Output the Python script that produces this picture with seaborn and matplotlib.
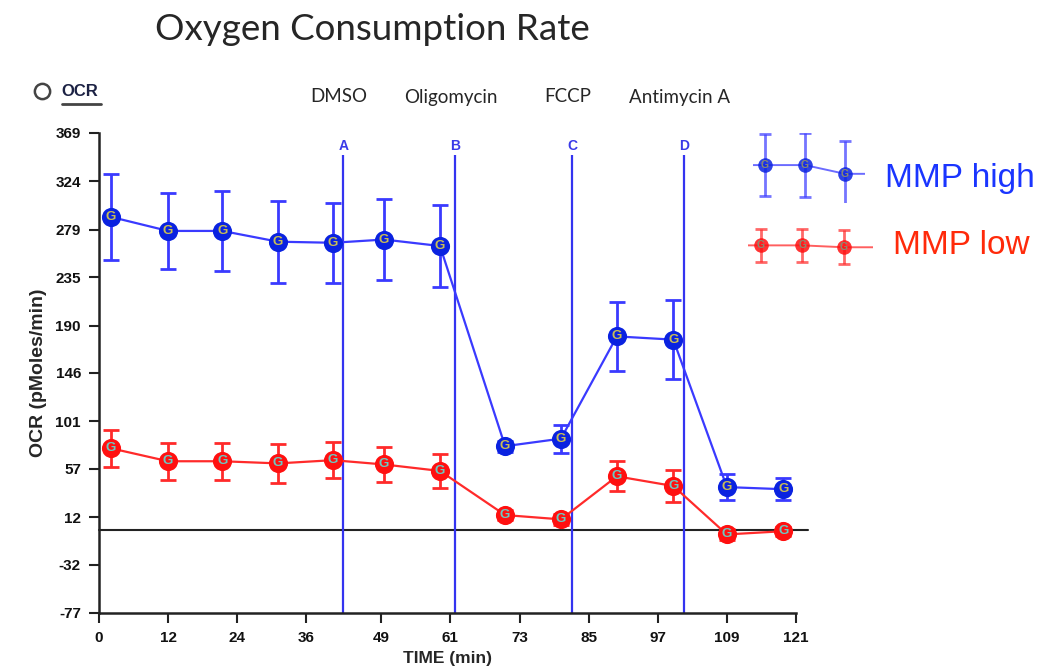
import matplotlib
matplotlib.use("Agg")
import matplotlib.pyplot as plt
from matplotlib.lines import Line2D
from matplotlib.transforms import blended_transform_factory
import numpy as np
import pandas as pd
import seaborn as sns

# Seahorse OCR trace: two cell populations sorted by mitochondrial membrane potential
time_min = [2.1, 12.0, 21.4, 31.1, 40.6, 49.5, 59.2, 70.5, 80.2, 89.9, 99.7, 109.0, 118.8]
ocr_high = [291, 278, 278, 268, 267, 270, 264, 78, 85, 180, 177, 40, 38]
err_high = [40, 35, 37, 38, 37, 38, 38, 5, 13, 32, 37, 12, 10]
ocr_low = [76, 64, 64, 62, 65, 61, 55, 14, 10, 50, 41, -4, -1]
err_low = [17, 17, 17, 18, 17, 16, 16, 5, 5, 14, 15, 5, 4]

injection_time = [42.4, 61.8, 82.1, 101.6]
injection_port = ["A", "B", "C", "D"]
injection_compound = ["DMSO", "Oligomycin", "FCCP", "Antimycin A"]

y_ticks = [-77, -32, 12, 57, 101, 146, 190, 235, 279, 324, 369]
x_ticks = [0, 12, 24, 36, 49, 61, 73, 85, 97, 109, 121]

groups = ["MMP high", "MMP low"]
line_col = {"MMP high": "#3a3aff", "MMP low": "#ff2a2a"}
dot_col = {"MMP high": "#0a22e0", "MMP low": "#ff1010"}
glyph_col = {"MMP high": "#c8bd55", "MMP low": "#6cc9c2"}
label_col = {"MMP high": "#1a35ff", "MMP low": "#ff2a0a"}

df = pd.concat([
    pd.DataFrame({"time": time_min, "ocr": ocr_high, "err": err_high, "group": "MMP high"}),
    pd.DataFrame({"time": time_min, "ocr": ocr_low, "err": err_low, "group": "MMP low"}),
], ignore_index=True)

sns.set_theme(style="ticks")
plt.rcParams["font.family"] = ["Liberation Sans", "DejaVu Sans"]

fig = plt.figure(figsize=(10.42, 6.70), dpi=100)
ax = fig.add_axes([99 / 1042, 1 - 613 / 670, 697 / 1042, 480 / 670])


def draw_series(axis, x, y, e, grp, msize, gsize, lw=1.6):
    axis.errorbar(x, y, yerr=e, fmt="none", ecolor=line_col[grp], elinewidth=2,
                  capsize=6, capthick=2, zorder=3)
    sns.lineplot(x=x, y=y, ax=axis, color=line_col[grp], linewidth=lw,
                 estimator=None, sort=False, zorder=4, legend=False)
    sns.scatterplot(x=x, y=y, ax=axis, color=dot_col[grp], s=msize, linewidth=0,
                    zorder=5, legend=False)
    for xi, yi in zip(x, y):
        axis.text(xi, yi, "G", color=glyph_col[grp], fontsize=gsize, fontweight="bold",
                  ha="center", va="center", zorder=6)


for grp in groups:
    sub = df[df["group"] == grp]
    draw_series(ax, list(sub["time"]), list(sub["ocr"]), list(sub["err"]), grp, 190, 9.5)

# zero reference line
ax.plot([0, 123], [0, 0], color="#222222", linewidth=1.5, zorder=2, clip_on=False)

# injection ports
label_tf = blended_transform_factory(ax.transData, fig.transFigure)
for t, port, comp in zip(injection_time, injection_port, injection_compound):
    ax.vlines(t, -77, 349, color="#3434f0", linewidth=1.6, zorder=2)
    ax.text(t, 357, port, color="#3a3ae8", fontsize=10, fontweight="bold",
            ha="center", va="center")
    ax.text(t - 0.8, 1 - 97 / 670, comp, transform=label_tf, fontsize=13.5,
            ha="center", va="center", family=["Lato", "DejaVu Sans"], clip_on=False)

ax.set_xlim(0, 121)
ax.set_ylim(-77, 369)
ax.set_xticks(x_ticks)
ax.set_xticklabels([str(v) for v in x_ticks])
ax.set_yticks(y_ticks)
ax.set_yticklabels([str(v) for v in y_ticks])
ax.tick_params(axis="both", direction="out", length=7, width=1.5, color="#222222",
               labelsize=11, pad=6)
for lab in ax.get_xticklabels() + ax.get_yticklabels():
    lab.set_fontweight("bold")
    lab.set_color("#111111")
for side in ["top", "right"]:
    ax.spines[side].set_visible(False)
for side in ["left", "bottom"]:
    ax.spines[side].set_color("#222222")
    ax.spines[side].set_linewidth(1.8)
ax.set_xlabel("TIME (min)", fontsize=12.5, fontweight="bold", labelpad=4)
ax.set_ylabel("OCR (pMoles/min)", fontsize=14, fontweight="bold", labelpad=6)
ax.grid(False)

# legend glyphs: first points after the initial reading of each trace
leg_boxes = {"MMP high": ([753, 133, 112, 70], 40), "MMP low": ([748, 226, 125, 40], 21)}
leg_xlim = {"MMP high": (-0.3, 2.5), "MMP low": (-0.3, 2.7)}
series = {"MMP high": (ocr_high, err_high), "MMP low": (ocr_low, err_low)}
for grp in groups:
    (px, py, pw, ph), half = leg_boxes[grp]
    lax = fig.add_axes([px / 1042, 1 - (py + ph) / 670, pw / 1042, ph / 670])
    vals, errs = series[grp]
    yv = vals[1:4]
    ev = errs[1:4]
    xv = [0, 1, 2]
    lo, hi = leg_xlim[grp]
    lax.plot([lo] + xv + [hi], [yv[0]] + yv + [yv[-1]], color=line_col[grp], linewidth=1.4,
             alpha=0.75, zorder=2)
    lax.errorbar(xv, yv, yerr=ev, fmt="none", ecolor=line_col[grp], elinewidth=2,
                 capsize=4, capthick=2, alpha=0.7, zorder=3)
    lax.scatter(xv, yv, s=110, color=dot_col[grp], linewidth=0, alpha=0.85, zorder=4)
    for xi, yi in zip(xv, yv):
        lax.text(xi, yi, "G", color="#8a8a70", fontsize=7.5, fontweight="bold",
                 ha="center", va="center", zorder=5)
    centre = float(np.mean(yv))
    lax.set_xlim(lo, hi)
    lax.set_ylim(centre - half, centre + half)
    lax.axis("off")

fig.text(885 / 1042, 1 - 178 / 670, "MMP high", color=label_col["MMP high"], fontsize=24,
         ha="left", va="center")
fig.text(893 / 1042, 1 - 245 / 670, "MMP low", color=label_col["MMP low"], fontsize=24,
         ha="left", va="center")

# title and panel tag
fig.text(155 / 1042, 1 - 29 / 670, "Oxygen Consumption Rate", fontsize=26.5, ha="left",
         va="center", family=["Lato", "DejaVu Sans"])
fig.add_artist(Line2D([42 / 1042], [1 - 91 / 670], marker="o", markersize=11, mfc="none",
                      mec="#444444", mew=1.8, linestyle="none", transform=fig.transFigure))
fig.text(61 / 1042, 1 - 91 / 670, "OCR", fontsize=12, fontweight="bold", color="#1c2244",
         ha="left", va="center")
fig.add_artist(Line2D([62 / 1042, 101 / 1042], [1 - 104 / 670, 1 - 104 / 670], color="#444444",
                      linewidth=2, transform=fig.transFigure))

fig.savefig("out.png", dpi=100)
